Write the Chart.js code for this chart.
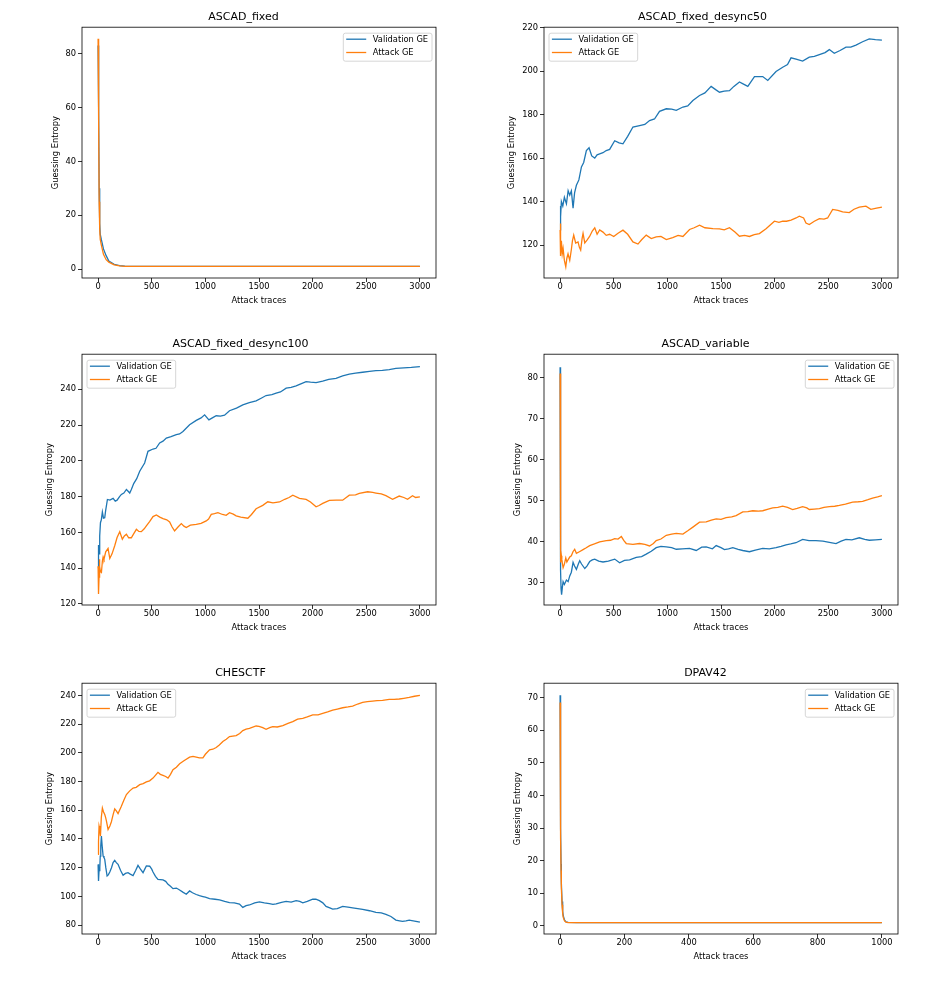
<!DOCTYPE html>
<html>
<head>
<meta charset="utf-8">
<script src="https://cdn.jsdelivr.net/npm/chart.js@4.4.0/dist/chart.umd.min.js"></script>
<style>
    html, body { margin: 0; background: #fff; }
    #fig { position: relative; width: 951px; height: 984px; }
    #fig canvas { position: absolute; }
</style>
</head>
<body>
<div id="fig"></div>
<script>
// --- data: [attack traces, guessing entropy] ---
const seriesLabels = ['Validation GE', 'Attack GE'];
const titles = ['ASCAD_fixed', 'ASCAD_fixed_desync50', 'ASCAD_fixed_desync100', 'ASCAD_variable', 'CHESCTF', 'DPAV42'];

const xTicks3000 = [0, 500, 1000, 1500, 2000, 2500, 3000];
const xTicks1000 = [0, 200, 400, 600, 800, 1000];
const yTicksFixed = [0, 20, 40, 60, 80];
const yTicksDesync50 = [120, 140, 160, 180, 200, 220];
const yTicksDesync100 = [120, 140, 160, 180, 200, 220, 240];
const yTicksVariable = [30, 40, 50, 60, 70, 80];
const yTicksChes = [80, 100, 120, 140, 160, 180, 200, 220, 240];
const yTicksDpa = [0, 10, 20, 30, 40, 50, 60, 70];

const fixedVal = [[0,83],[5,60],[10,30],[15,17],[20,13],[30,11],[50,7.5],[75,5],[100,3],[150,1.8],[200,1.3],[250,1.1],[300,1],[500,1],[1000,1],[1500,1],[2000,1],[2500,1],[3000,1]];
const fixedAtk = [[0,85.5],[5,55],[10,25],[15,15],[20,11],[30,9],[50,5.5],[75,3.5],[100,2.6],[150,1.6],[200,1.2],[250,1.05],[300,1],[500,1],[1000,1],[1500,1],[2000,1],[2500,1],[3000,1]];

const desync50Val = [[0,127],[3,138],[6,133],[12,140],[25,138],[40,142],[59,139],[75,145],[90,143],[105,145],[121,137],[135,144],[152,147.5],[175,150],[199,156],[220,158],[245,163.5],[270,164.8],[295,161],[323,160],[345,161.5],[369,162],[400,162.5],[430,163.5],[462,164],[509,168],[550,167],[586,166.6],[630,170],[679,174.3],[741,175],[790,175.5],[834,177.3],[880,178],[927,181.5],[990,182.7],[1040,182.5],[1083,182],[1145,183.5],[1190,184],[1238,186.5],[1300,188.8],[1350,190],[1408,193],[1450,191.5],[1486,190.3],[1530,190.8],[1579,191],[1620,193],[1672,195],[1710,194],[1750,193],[1812,197.5],[1889,197.5],[1936,195.7],[2013,199.8],[2075,201.8],[2120,203],[2153,206.1],[2200,205.5],[2261,204.6],[2323,206.4],[2370,206.8],[2417,207.6],[2470,208.5],[2510,209.9],[2556,208.2],[2610,209.5],[2665,211],[2710,211],[2758,212],[2820,213.5],[2882,214.8],[2940,214.5],[3000,214.3]];
const desync50Atk = [[0,127],[2,118],[4,130],[7,115],[12,122],[20,116],[28,118.5],[40,113],[53,110],[63,114],[74,116],[90,113],[105,118],[115,122],[127,124.6],[145,121],[167,121.5],[180,119],[192,117.7],[205,123],[214,125.4],[230,121],[251,122.3],[275,124],[300,126.5],[323,128],[345,125],[369,127],[400,126],[430,124.5],[462,125],[500,124],[540,125.5],[586,126.9],[630,125],[679,121.5],[726,120.5],[760,122.5],[803,124.6],[850,123],[896,123.8],[940,124],[990,122.6],[1050,123.5],[1100,124.5],[1145,124],[1207,127.2],[1250,128],[1300,129.2],[1350,128],[1424,127.6],[1486,127.5],[1530,127],[1579,128],[1630,126],[1672,124.1],[1720,124.5],[1765,124],[1810,124.8],[1858,125.3],[1920,127.5],[1998,131],[2040,130.5],[2075,131],[2110,131],[2153,131.5],[2200,132.5],[2230,133.3],[2270,132.5],[2292,130.2],[2323,129.5],[2370,131],[2417,132.2],[2460,132],[2494,132.5],[2541,136.4],[2590,136],[2634,135.3],[2696,135],[2740,136.5],[2789,137.5],[2851,137.9],[2897,136.5],[2950,137],[3000,137.5]];

const desync100Val = [[0,140],[4,153],[9,148],[15,158],[22,165.4],[30,167],[40,171.4],[50,168],[62,168.2],[70,172],[87,178.4],[110,178],[140,179],[160,177.5],[177,178],[200,180],[217,181.2],[240,182],[264,184],[280,183],[295,182],[310,184],[332,187.3],[360,190],[388,194.2],[434,198.8],[465,205.3],[512,206.6],[540,207],[574,210],[605,211],[636,212.7],[680,213.5],[729,214.6],[760,215],[791,216.4],[853,220.2],[915,222.6],[960,224],[993,225.7],[1033,222.9],[1065,224],[1101,225.2],[1140,225],[1179,225.5],[1225,228],[1290,229.5],[1349,231.3],[1410,232.5],[1473,233.5],[1520,235],[1566,236.5],[1620,237],[1660,237.8],[1700,238.5],[1753,240.6],[1800,241],[1846,241.9],[1890,243],[1939,244.3],[1980,244],[2032,243.7],[2094,244.5],[2150,245.5],[2218,246.1],[2280,247.5],[2342,248.5],[2400,249],[2466,249.5],[2530,250],[2590,250.4],[2650,250.6],[2714,251],[2776,251.7],[2850,252],[2920,252.2],[3000,252.6]];
const desync100Atk = [[0,141],[3,132],[5,125.6],[9,135],[12,145],[16,141],[22,138],[31,137.6],[40,144],[47,146.3],[55,145],[71,149.1],[93,151],[109,145.4],[130,148],[155,152.5],[177,157.1],[202,160.3],[226,156.2],[245,158],[264,159],[285,157],[310,157],[330,159],[357,161.7],[380,160.5],[403,160.4],[430,162],[450,163.6],[480,166],[512,168.8],[543,169.7],[575,168.5],[605,167.7],[640,167],[667,165.8],[690,163],[713,160.8],[745,163],[776,164.9],[800,163.5],[822,162.7],[860,164],[915,164.5],[960,165],[1008,166.4],[1030,167.5],[1055,170.1],[1085,170.5],[1117,171],[1160,170],[1194,169.5],[1225,171],[1260,170.2],[1287,169.2],[1330,168.5],[1396,167.9],[1430,170],[1473,173.2],[1535,175.1],[1582,177.1],[1630,176.5],[1691,177],[1740,178.5],[1780,179.5],[1815,180.8],[1877,179],[1939,178.4],[1980,177],[2032,174.3],[2060,175],[2094,176.2],[2156,177.9],[2220,178],[2280,178],[2342,180.8],[2400,181],[2435,181.8],[2513,182.7],[2560,182.3],[2590,182],[2640,181.5],[2683,180.5],[2745,178.5],[2807,180.3],[2850,179.5],[2885,178.5],[2931,180.5],[2960,179.5],[3000,179.8]];

const variableVal = [[0,82.5],[2,60],[4,38.9],[7,33],[9,28.4],[12,29],[16,27],[22,29],[28,30.2],[40,29.5],[59,30.6],[75,30.2],[90,31.6],[105,32.5],[121,34.9],[135,34],[152,33.2],[170,34.5],[183,35.3],[200,34.5],[230,33.4],[250,34],[276,35.1],[300,35.5],[323,35.7],[360,35.2],[400,35],[450,35.2],[509,35.7],[555,34.8],[600,35.4],[648,35.5],[710,36.1],[760,36.3],[803,36.9],[850,37.6],[896,38.5],[940,38.8],[990,38.7],[1040,38.5],[1083,38.1],[1140,38.2],[1207,38.3],[1269,37.8],[1320,38.6],[1362,38.7],[1420,38.2],[1455,39],[1500,38.5],[1532,38],[1570,38.2],[1610,38.5],[1660,38.1],[1703,37.8],[1765,37.5],[1820,37.9],[1889,38.3],[1950,38.2],[2013,38.5],[2060,38.8],[2106,39.2],[2150,39.4],[2199,39.7],[2261,40.5],[2320,40.2],[2385,40.2],[2450,40.1],[2510,39.8],[2572,39.5],[2620,40.1],[2665,40.5],[2720,40.4],[2789,40.9],[2840,40.5],[2882,40.3],[2940,40.4],[3000,40.5]];
const variableAtk = [[0,81],[2,60],[4,42],[6,36],[8,34.9],[12,36.5],[16,35.7],[22,34.5],[28,33.6],[40,34.5],[53,36],[63,35],[74,35.5],[90,36.2],[105,36.5],[120,37.5],[136,38.1],[152,37.1],[180,37.5],[214,38],[240,38.4],[276,39],[320,39.4],[369,39.9],[431,40.2],[470,40.3],[509,40.7],[540,40.6],[571,41.2],[595,40.2],[617,39.5],[679,39.3],[741,39.5],[790,39.3],[834,38.9],[870,39.5],[896,40.2],[940,40.6],[990,41.5],[1040,41.8],[1083,42],[1145,41.8],[1190,42.6],[1238,43.5],[1300,44.7],[1362,44.8],[1410,45.2],[1455,45.5],[1500,45.4],[1548,45.8],[1600,46],[1641,46.3],[1703,47.2],[1750,47.3],[1796,47.5],[1850,47.4],[1889,47.5],[1940,47.9],[1982,48.2],[2030,48.3],[2075,48.6],[2120,48.3],[2168,47.8],[2210,48.1],[2261,48.5],[2300,48.2],[2323,47.8],[2370,47.9],[2417,48],[2460,48.3],[2510,48.5],[2560,48.6],[2603,48.8],[2660,49.1],[2727,49.6],[2780,49.7],[2820,49.8],[2870,50.2],[2913,50.6],[2960,50.9],[3000,51.2]];

const chesVal = [[0,122.3],[3,115],[5,110.8],[9,118],[16,120],[20,128],[25,135],[31,142],[38,135],[47,128.1],[55,127],[62,125.8],[72,120],[84,114.2],[95,115],[109,117],[125,120],[140,123.5],[155,125.1],[170,123.5],[186,122.3],[210,118],[233,114.7],[255,116],[279,116.5],[300,115.5],[326,114.5],[350,118],[372,121.6],[395,119],[419,116.5],[435,119],[450,121.2],[481,121],[500,119],[512,117],[535,114],[558,111.9],[605,111.5],[630,110.5],[652,108.4],[675,107],[698,105.4],[730,105.8],[760,104.5],[790,103],[822,101.5],[853,103.8],[880,102.5],[915,101.3],[945,100.5],[977,99.9],[1000,99.5],[1039,98.5],[1090,98],[1132,97.6],[1180,96.5],[1225,95.7],[1270,95.5],[1318,94.6],[1349,92.3],[1380,93.5],[1411,94],[1460,95.5],[1504,96.2],[1550,95.5],[1597,95],[1630,94.5],[1660,94.8],[1710,95.8],[1753,96.5],[1800,96],[1846,97],[1880,96.5],[1908,95.5],[1950,96.5],[2001,98],[2030,98],[2063,97],[2095,95.5],[2125,93],[2160,92],[2187,91.1],[2230,91.5],[2280,93],[2330,92.5],[2373,92],[2420,91.5],[2466,91],[2530,90],[2590,88.8],[2640,88.5],[2683,87.5],[2730,86],[2776,83.5],[2810,83],[2838,82.6],[2870,83],[2900,83.5],[2950,82.8],[3000,82]];
const chesAtk = [[0,129.2],[4,138],[9,149],[15,147],[22,142],[30,155],[40,161.6],[50,159],[62,157],[70,155],[78,152.4],[93,146.6],[110,149],[124,152],[140,157],[155,160.9],[170,159.5],[186,157.7],[200,160],[217,162.8],[240,167],[264,170.9],[295,173.5],[326,175.5],[355,176],[388,177.8],[420,178.5],[450,179.7],[480,180.5],[512,182.4],[530,184],[558,186.4],[580,185],[605,184.3],[630,183.5],[652,182.4],[675,185],[698,188.2],[730,190],[760,192.4],[800,194.5],[853,197],[885,197.5],[915,197],[945,196.5],[977,196.5],[1000,199],[1039,202.1],[1070,202.5],[1101,203.7],[1130,205.5],[1163,207.9],[1195,209.5],[1225,211.3],[1287,212],[1320,213.5],[1349,215.5],[1380,216.5],[1411,217.1],[1473,218.7],[1500,218.5],[1535,217.5],[1566,216.4],[1600,217.5],[1628,218.3],[1670,218],[1722,219],[1770,220.5],[1815,221.7],[1860,223.5],[1908,224],[1950,225],[2001,226.4],[2050,226.5],[2094,227.5],[2140,228.5],[2187,229.8],[2230,230.5],[2280,231.4],[2330,232],[2373,232.6],[2420,234],[2466,235.1],[2510,235.6],[2559,236],[2600,236.3],[2652,236.5],[2714,237.2],[2760,237.2],[2807,237.5],[2850,238],[2900,238.6],[2950,239.4],[3000,240]];

const dpaVal = [[0,70.7],[1,50],[2,30],[3,19],[4,13],[6,7.5],[8,4.5],[10,3],[14,1.7],[18,1.25],[25,1.05],[50,1],[100,1],[200,1],[400,1],[600,1],[800,1],[1000,1]];
const dpaAtk = [[0,68.5],[1,46],[2,27],[3,17],[4,11.5],[6,6.5],[8,3.8],[10,2.5],[14,1.5],[18,1.15],[25,1],[50,1],[100,1],[200,1],[400,1],[600,1],[800,1],[1000,1]];

// --- styling / layout ---
const BLUE = '#1f77b4';
const ORANGE = '#ff7f0e';
const FONT = '"DejaVu Sans", sans-serif';
const TICK_SIZE = 8.3;
const TITLE_H = 22;
const XAXIS_H = 28;
const PAD_R = 12;
const PLOT_W = 354;
const PLOT_H = 251;

Chart.defaults.font.family = FONT;
Chart.defaults.color = '#000';

// matplotlib-like spines around the plot area
const frame = {
    id: 'frame',
    afterDatasetsDraw(chart) {
        const { ctx, chartArea: a } = chart;
        ctx.save();
        ctx.strokeStyle = '#000';
        ctx.lineWidth = 0.8;
        ctx.strokeRect(a.left, a.top, a.right - a.left, a.bottom - a.top);
        ctx.restore();
    },
};

// boxed legend drawn inside the plot area, like plt.legend()
const boxLegend = {
    id: 'boxLegend',
    afterDraw(chart, args, opts) {
        const { ctx, chartArea: a } = chart;
        const sets = chart.data.datasets;
        ctx.save();
        ctx.font = TICK_SIZE + 'px ' + FONT;
        const textW = Math.max(...sets.map(d => ctx.measureText(d.label).width));
        const w = 3.4 + 20 + 6.6 + textW + 3.4;
        const h = 28;
        const x = opts.side === 'right' ? a.right - 4.5 - w : a.left + 4.5;
        const y = a.top + 5.5;
        ctx.beginPath();
        ctx.roundRect(x + 0.5, y + 0.5, w, h, 2);
        ctx.fillStyle = 'rgba(255,255,255,0.8)';
        ctx.fill();
        ctx.strokeStyle = '#cccccc';
        ctx.lineWidth = 0.8;
        ctx.stroke();
        sets.forEach((d, i) => {
            const cy = y + 6.5 + i * 13.3;
            ctx.beginPath();
            ctx.moveTo(x + 3.4, cy);
            ctx.lineTo(x + 23.4, cy);
            ctx.strokeStyle = d.borderColor;
            ctx.lineWidth = 1.3;
            ctx.stroke();
            ctx.fillStyle = '#000';
            ctx.textBaseline = 'middle';
            ctx.fillText(d.label, x + 30, cy + 0.5);
        });
        ctx.restore();
    },
};

const panels = [
    { title: titles[0], left: 82, top: 27, yW: 31, xMin: -150, xMax: 3150, xTicks: xTicks3000, yMin: -3.3, yMax: 89.8, yTicks: yTicksFixed, val: fixedVal, atk: fixedAtk, side: 'right' },
    { title: titles[1], left: 544, top: 27, yW: 37, xMin: -150, xMax: 3150, xTicks: xTicks3000, yMin: 104.9, yMax: 220.2, yTicks: yTicksDesync50, val: desync50Val, atk: desync50Atk, side: 'left' },
    { title: titles[2], left: 82, top: 354, yW: 37, xMin: -150, xMax: 3150, xTicks: xTicks3000, yMin: 119.4, yMax: 259.6, yTicks: yTicksDesync100, val: desync100Val, atk: desync100Atk, side: 'left' },
    { title: titles[3], left: 544, top: 354, yW: 31, xMin: -150, xMax: 3150, xTicks: xTicks3000, yMin: 24.5, yMax: 85.7, yTicks: yTicksVariable, val: variableVal, atk: variableAtk, side: 'right' },
    { title: titles[4], left: 82, top: 683, yW: 37, xMin: -150, xMax: 3150, xTicks: xTicks3000, yMin: 73.8, yMax: 248.5, yTicks: yTicksChes, val: chesVal, atk: chesAtk, side: 'left' },
    { title: titles[5], left: 544, top: 683, yW: 31, xMin: -50, xMax: 1050, xTicks: xTicks1000, yMin: -2.5, yMax: 74.4, yTicks: yTicksDpa, val: dpaVal, atk: dpaAtk, side: 'right' },
];

const toXY = pairs => pairs.map(([x, y]) => ({ x, y }));

function makePanel(p) {
    const canvas = document.createElement('canvas');
    const w = p.yW + PLOT_W + PAD_R;
    const h = TITLE_H + PLOT_H + XAXIS_H;
    canvas.width = w;
    canvas.height = h;
    canvas.style.left = (p.left - p.yW) + 'px';
    canvas.style.top = (p.top - TITLE_H) + 'px';
    canvas.style.width = w + 'px';
    canvas.style.height = h + 'px';
    document.getElementById('fig').appendChild(canvas);

    const tickOpts = { font: { size: TICK_SIZE }, color: '#000', callback: v => String(v) };
    const gridOpts = { drawOnChartArea: false, drawTicks: true, tickLength: 4, tickColor: '#000', tickWidth: 0.8 };

    new Chart(canvas.getContext('2d'), {
        type: 'line',
        data: {
            datasets: [
                // attack GE is plotted after validation GE, so it sits on top
                { label: seriesLabels[0], data: toXY(p.val), borderColor: BLUE, backgroundColor: BLUE, order: 1 },
                { label: seriesLabels[1], data: toXY(p.atk), borderColor: ORANGE, backgroundColor: ORANGE, order: 0 },
            ],
        },
        options: {
            responsive: false,
            animation: false,
            events: [],
            layout: { padding: { left: 0, right: PAD_R, top: 0, bottom: 0 } },
            elements: {
                point: { radius: 0 },
                line: { borderWidth: 1.3, tension: 0 },
            },
            scales: {
                x: {
                    type: 'linear',
                    min: p.xMin, max: p.xMax,
                    afterBuildTicks: s => { s.ticks = p.xTicks.map(v => ({ value: v })); },
                    afterFit: s => { s.height = XAXIS_H; },
                    ticks: { ...tickOpts, padding: 0, maxRotation: 0 },
                    grid: gridOpts,
                    border: { display: false },
                    title: { display: true, text: 'Attack traces', font: { size: TICK_SIZE }, color: '#000', padding: 0 },
                },
                y: {
                    type: 'linear',
                    min: p.yMin, max: p.yMax,
                    afterBuildTicks: s => { s.ticks = p.yTicks.map(v => ({ value: v })); },
                    afterFit: s => { s.width = p.yW; },
                    ticks: { ...tickOpts, padding: 2 },
                    grid: gridOpts,
                    border: { display: false },
                    title: { display: true, text: 'Guessing Entropy', font: { size: TICK_SIZE }, color: '#000', padding: 0 },
                },
            },
            plugins: {
                legend: { display: false },
                tooltip: { enabled: false },
                title: {
                    display: true,
                    text: p.title,
                    color: '#000',
                    font: { size: 11, weight: 'normal' },
                    padding: { top: 6, bottom: 3 },
                },
                boxLegend: { side: p.side },
            },
        },
        plugins: [frame, boxLegend],
    });
}

panels.forEach(makePanel);
</script>
</body>
</html>
